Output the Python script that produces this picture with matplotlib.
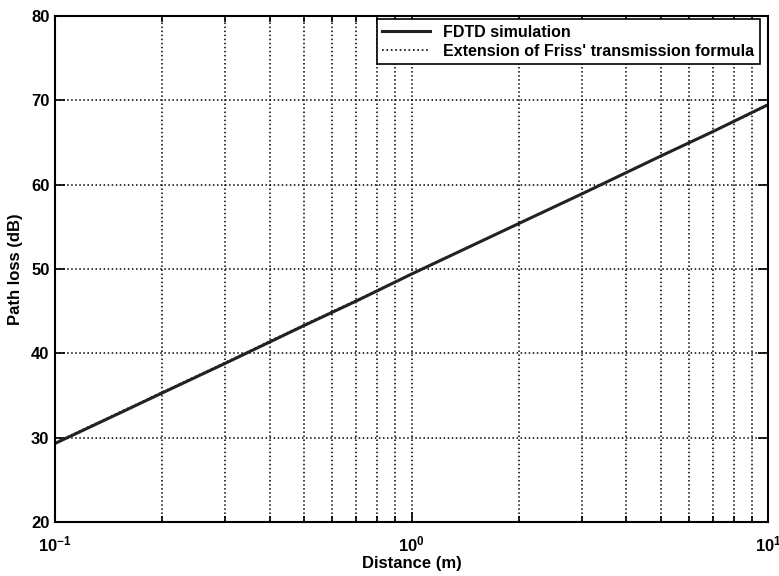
import numpy as np
import matplotlib.pyplot as plt

plt.rcParams['font.family'] = ['Liberation Sans', 'DejaVu Sans']
plt.rcParams['font.weight'] = 'bold'
plt.rcParams['axes.unicode_minus'] = False

# distance (m) and path loss (dB)
distance = [0.1, 0.15, 0.2, 0.3, 0.5, 0.7, 1.0, 2.0, 3.0, 5.0, 7.0, 10.0]
fdtd_loss = [29.3, 32.8, 35.3, 38.8, 43.3, 46.2, 49.4, 55.4, 58.9, 63.4, 66.3, 69.5]
friis_loss = [29.4, 32.9, 35.4, 38.9, 43.4, 46.3, 49.4, 55.4, 58.9, 63.4, 66.3, 69.4]

fig = plt.figure(figsize=(7.79, 5.76), dpi=100)
ax = fig.add_axes([0.0706, 0.094, 0.9154, 0.878])

ax.semilogx(distance, friis_loss, color='k', linestyle=':', lw=1.2,
            label="Extension of Friss' transmission formula")
ax.semilogx(distance, fdtd_loss, color='#222222', linestyle='-', lw=2.2,
            label='FDTD simulation')

ax.set_xlim(0.1, 10)
ax.set_ylim(20, 80)
ax.set_yticks(range(20, 81, 10))
ax.grid(True, which='both', linestyle=':', color='k', lw=1.1)
ax.tick_params(which='both', direction='in', top=True, right=True,
               labelsize=12, width=1.2)
ax.tick_params(which='major', length=7)
ax.tick_params(which='minor', length=4)
ax.tick_params(axis='x', which='major', pad=9)
ax.tick_params(axis='y', which='major', pad=4)
for s in ax.spines.values():
    s.set_linewidth(1.5)
for lab in ax.get_xticklabels() + ax.get_yticklabels():
    lab.set_fontweight('bold')

ax.set_xlabel('Distance (m)', fontsize=12, fontweight='bold', labelpad=1)
ax.set_ylabel('Path loss (dB)', fontsize=12, fontweight='bold', labelpad=6)

handles, labels = ax.get_legend_handles_labels()
leg = ax.legend(handles[::-1], labels[::-1], loc='upper right',
                prop={'weight': 'bold', 'size': 11.5}, fancybox=False,
                edgecolor='k', framealpha=1, handlelength=3.0,
                borderpad=0.35, labelspacing=0.25, borderaxespad=0.2,
                bbox_to_anchor=(0.993, 1.0))
leg.get_frame().set_linewidth(1.2)

fig.savefig('out.png', dpi=100)
